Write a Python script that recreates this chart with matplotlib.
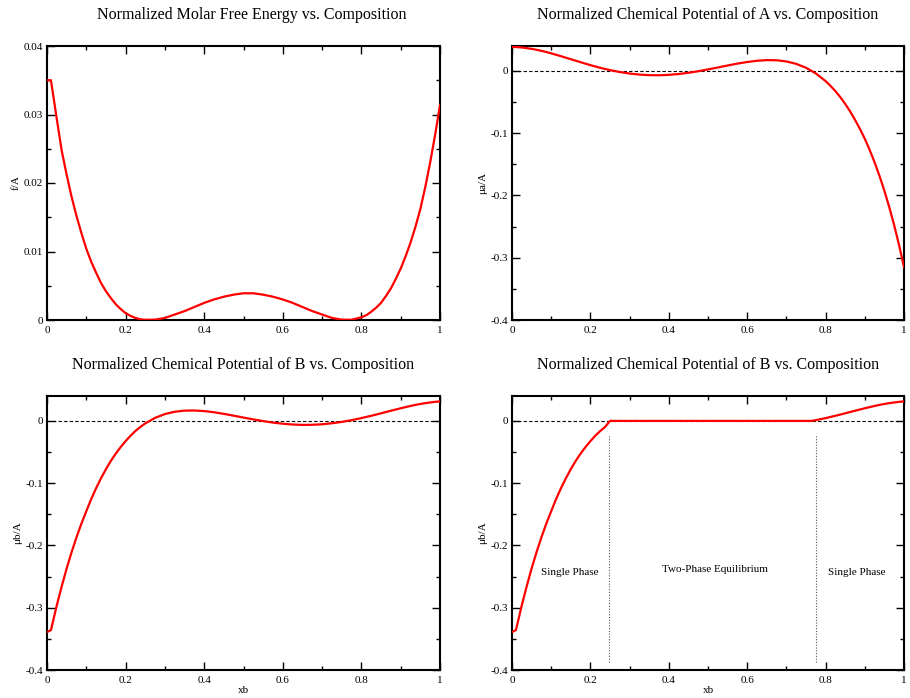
import matplotlib
matplotlib.use("Agg")
import matplotlib.pyplot as plt
from matplotlib.ticker import MultipleLocator, FuncFormatter

plt.rcParams['font.family'] = ['Liberation Serif', 'DejaVu Serif']

# ---------------- data ----------------
xb = [0.0, 0.01, 0.025, 0.0375, 0.05, 0.0625, 0.075, 0.0875, 0.1, 0.1125,
      0.125, 0.1375, 0.15, 0.1625, 0.175, 0.1875, 0.2, 0.2125, 0.225, 0.2375,
      0.25,
      0.275, 0.3, 0.325, 0.35, 0.375, 0.4, 0.425, 0.45, 0.475, 0.5, 0.525,
      0.55, 0.575, 0.6, 0.625, 0.65, 0.675, 0.7, 0.725, 0.75, 0.775,
      0.8, 0.8125, 0.825, 0.8375, 0.85, 0.8625, 0.875, 0.8875, 0.9, 0.9125,
      0.925, 0.9375, 0.95, 0.9625, 0.975, 0.9875, 1.0]

f_A = [0.0350, 0.0350, 0.0293, 0.0247, 0.0212, 0.0180, 0.0152, 0.0127, 0.0104,
       0.0085, 0.0069, 0.0054, 0.0042, 0.0032, 0.0023, 0.0016, 0.0010, 0.0006,
       0.0003, 0.0001, 0.00003,
       0.00005, 0.0003, 0.0008, 0.0013, 0.0019, 0.0025, 0.0030, 0.0034, 0.0037,
       0.0039, 0.0039, 0.0037, 0.0034, 0.0030, 0.0025, 0.0019, 0.0013, 0.0008,
       0.0003, 0.00005, 0.00003,
       0.0004, 0.0007, 0.0012, 0.0018, 0.0025, 0.0035, 0.0046, 0.0060, 0.0075,
       0.0093, 0.0113, 0.0136, 0.0162, 0.0194, 0.0230, 0.0270, 0.0314]

mu_a = [0.0384, 0.0384, 0.0376, 0.0366, 0.0354, 0.0339, 0.0322, 0.0303, 0.0282,
        0.0259, 0.0236, 0.0212, 0.0188, 0.0164, 0.0140, 0.0116, 0.0093, 0.0071,
        0.0050, 0.0031, 0.0013,
        -0.0018, -0.0042, -0.0059, -0.0068, -0.0070, -0.0063, -0.0050, -0.0030,
        -0.0005, 0.0024, 0.0055, 0.0087, 0.0117, 0.0143, 0.0163, 0.0173, 0.0171,
        0.0152, 0.0113, 0.0051, -0.0040,
        -0.0164, -0.0240, -0.0325, -0.0421, -0.0530, -0.0650, -0.0785, -0.0930,
        -0.1090, -0.1270, -0.1468, -0.1686, -0.1926, -0.2190, -0.2480, -0.2799,
        -0.3150]

mu_b = [-0.3390, -0.3360, -0.2960, -0.2655, -0.2370, -0.2110, -0.1870, -0.1650,
        -0.1450, -0.1255, -0.1080, -0.0920, -0.0775, -0.0642, -0.0525, -0.0420,
        -0.0325, -0.0238, -0.0162, -0.0097, -0.0040,
        0.0049, 0.0110, 0.0147, 0.0165, 0.0167, 0.0158, 0.0139, 0.0113, 0.0084,
        0.0054, 0.0024, -0.0003, -0.0027, -0.0045, -0.0058, -0.0064, -0.0062,
        -0.0054, -0.0038, -0.0016, 0.0012,
        0.0045, 0.0064, 0.0082, 0.0102, 0.0122, 0.0143, 0.0163, 0.0183, 0.0203,
        0.0222, 0.0240, 0.0257, 0.0272, 0.0285, 0.0296, 0.0306, 0.0314]

xb_eq = [0.0, 0.01, 0.025, 0.0375, 0.05, 0.0625, 0.075, 0.0875, 0.1, 0.1125,
         0.125, 0.1375, 0.15, 0.1625, 0.175, 0.1875, 0.2, 0.2125, 0.225, 0.2375,
         0.25, 0.765, 0.775,
         0.8, 0.8125, 0.825, 0.8375, 0.85, 0.8625, 0.875, 0.8875, 0.9, 0.9125,
         0.925, 0.9375, 0.95, 0.9625, 0.975, 0.9875, 1.0]
mu_b_eq = [-0.3390, -0.3360, -0.2960, -0.2655, -0.2370, -0.2110, -0.1870,
           -0.1650, -0.1450, -0.1255, -0.1080, -0.0920, -0.0775, -0.0642,
           -0.0525, -0.0420, -0.0325, -0.0238, -0.0162, -0.0097,
           0.0, 0.0, 0.0012,
           0.0045, 0.0064, 0.0082, 0.0102, 0.0122, 0.0143, 0.0163, 0.0183,
           0.0203, 0.0222, 0.0240, 0.0257, 0.0272, 0.0285, 0.0296, 0.0306,
           0.0314]

phase_bounds = [0.248, 0.776]
phase_line_y = [-0.387, -0.023]
region_labels = ["Single Phase", "Two-Phase Equilibrium", "Single Phase"]

titles = ["Normalized Molar Free Energy vs. Composition",
          "Normalized Chemical Potential of A vs. Composition",
          "Normalized Chemical Potential of B vs. Composition",
          "Normalized Chemical Potential of B vs. Composition"]

# ---------------- figure ----------------
W, H = 910, 698
fig = plt.figure(figsize=(W / 100, H / 100), dpi=100)


def px_axes(l, t, r, b):
    return fig.add_axes([l / W, 1 - b / H, (r - l) / W, (b - t) / H])


ax_tl = px_axes(47, 46, 440, 320)
ax_tr = px_axes(512, 46, 904, 320)
ax_bl = px_axes(47, 396, 440, 670)
ax_br = px_axes(512, 396, 904, 670)


def fmt(v, p):
    v = round(v, 6)
    if v == 0:
        return "0"
    return f"{v:g}"


def style(ax, ylo, yhi, ymaj, ymin):
    ax.set_xlim(0, 1)
    ax.set_ylim(ylo, yhi)
    ax.xaxis.set_major_locator(MultipleLocator(0.2))
    ax.xaxis.set_minor_locator(MultipleLocator(0.1))
    ax.yaxis.set_major_locator(MultipleLocator(ymaj))
    ax.yaxis.set_minor_locator(MultipleLocator(ymin))
    ax.xaxis.set_major_formatter(FuncFormatter(fmt))
    ax.yaxis.set_major_formatter(FuncFormatter(fmt))
    ax.tick_params(which='both', direction='in', top=True, right=True,
                   labelsize=8, colors='black')
    ax.tick_params(axis='x', pad=4)
    ax.tick_params(axis='y', pad=3)
    ax.tick_params(which='major', length=5.5, width=1.0)
    ax.tick_params(which='minor', length=2.8, width=1.0)
    for sp in ax.spines.values():
        sp.set_linewidth(1.5)


def title(ax, text, xc=0.5):
    ax.text(xc, 1 + 31 / 274, text, transform=ax.transAxes, ha='center',
            va='center', fontsize=11.5)


red = dict(color='#ff0000', lw=1.6, zorder=3)
zero = dict(color='black', lw=0.8, ls=(0, (3, 2)), zorder=2)

# top-left
style(ax_tl, 0, 0.04, 0.01, 0.005)
ax_tl.plot(xb, f_A, **red)
ax_tl.set_ylabel("f/A", fontsize=8, labelpad=2)
title(ax_tl, titles[0], 0.52)

# top-right
style(ax_tr, -0.4, 0.04, 0.1, 0.05)
ax_tr.axhline(0, **zero)
ax_tr.plot(xb, mu_a, **red)
ax_tr.set_ylabel("μa/A", fontsize=8, labelpad=2)
title(ax_tr, titles[1])

# bottom-left
style(ax_bl, -0.4, 0.04, 0.1, 0.05)
ax_bl.axhline(0, **zero)
ax_bl.plot(xb, mu_b, **red)
ax_bl.set_ylabel("μb/A", fontsize=8, labelpad=2)
ax_bl.set_xlabel("xb", fontsize=8, labelpad=1)
title(ax_bl, titles[2])

# bottom-right
style(ax_br, -0.4, 0.04, 0.1, 0.05)
ax_br.axhline(0, **zero)
ax_br.vlines(phase_bounds, phase_line_y[0], phase_line_y[1], colors='#555555',
             linestyles=(0, (1, 1.5)), lw=0.8, zorder=2)
ax_br.plot(xb_eq, mu_b_eq, **red)
ax_br.set_ylabel("μb/A", fontsize=8, labelpad=2)
ax_br.set_xlabel("xb", fontsize=8, labelpad=1)
title(ax_br, titles[3])
ax_br.text(0.148, -0.244, region_labels[0], ha='center', va='center', fontsize=8)
ax_br.text(0.518, -0.238, region_labels[1], ha='center', va='center', fontsize=8)
ax_br.text(0.880, -0.244, region_labels[2], ha='center', va='center', fontsize=8)

fig.savefig("out.png", dpi=100)
